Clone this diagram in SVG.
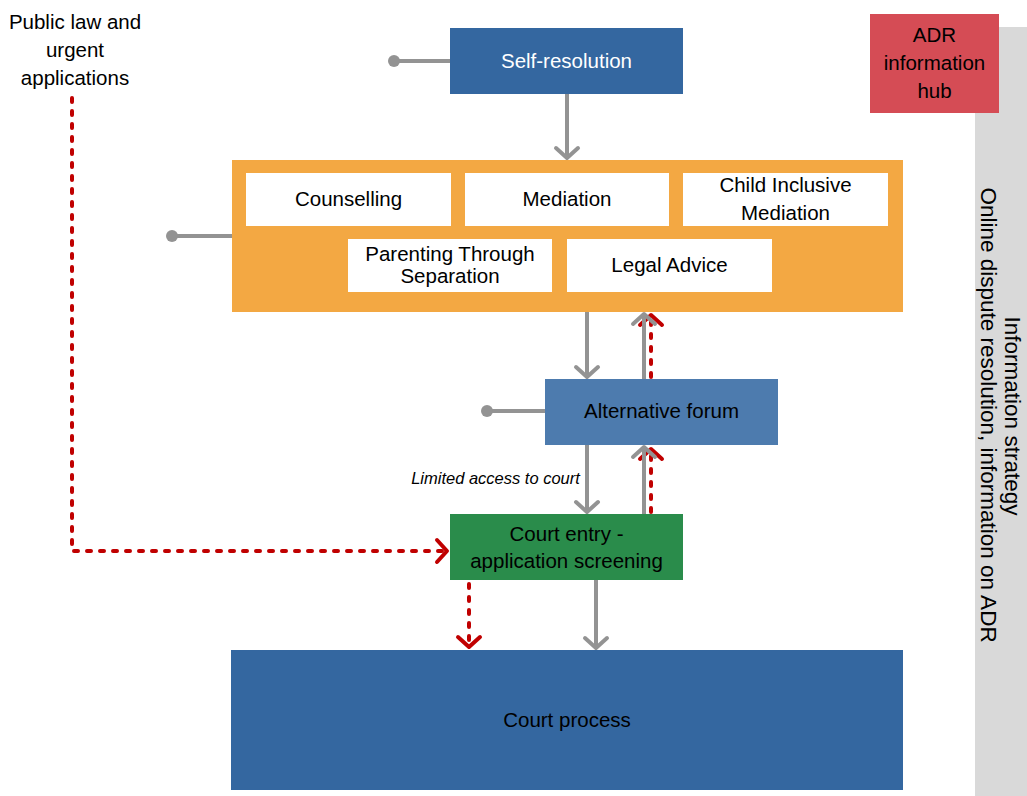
<svg xmlns="http://www.w3.org/2000/svg" width="1027" height="796" viewBox="0 0 1027 796">
<defs>
<marker id="ga" viewBox="0 0 16 28" refX="14" refY="14" markerWidth="16" markerHeight="28" markerUnits="userSpaceOnUse" orient="auto">
<path d="M3,3 L13,14 L3,25" fill="none" stroke="#939393" stroke-width="4" stroke-linecap="round" stroke-linejoin="round"/>
</marker>
<marker id="ra" viewBox="0 0 16 28" refX="14" refY="14" markerWidth="16" markerHeight="28" markerUnits="userSpaceOnUse" orient="auto">
<path d="M3,3 L13,14 L3,25" fill="none" stroke="#c00000" stroke-width="4" stroke-linecap="round" stroke-linejoin="round"/>
</marker>
</defs>
<style>
.t{font-family:"Liberation Sans",Arial,sans-serif;font-size:20.5px;text-anchor:middle;fill:#000}
.w{fill:#fff}
.s{font-size:22.5px}
.g{stroke:#939393;stroke-width:4;fill:none}
.r{stroke:#c00000;stroke-width:4;fill:none;stroke-dasharray:4 9;stroke-linecap:round}
.dot{fill:#939393}
</style>
<rect width="1027" height="796" fill="#fff"/>
<g id="sidebar">
<rect x="975" y="27" width="52" height="769" fill="#d9d9d9"/>
<text class="t s" transform="translate(1005,416) rotate(90)">Information strategy</text>
<text class="t s" transform="translate(981,415) rotate(90)">Online dispute resolution, information on ADR</text>
</g>
<g id="adr-hub">
<rect x="870" y="14" width="129" height="99" fill="#d54c55"/>
<text class="t" x="934.5" y="42">ADR</text>
<text class="t" x="934.5" y="70">information</text>
<text class="t" x="934.5" y="98">hub</text>
</g>
<g id="public-law">
<text class="t" x="75" y="29">Public law and</text>
<text class="t" x="75" y="57">urgent</text>
<text class="t" x="75" y="85">applications</text>
</g>
<g id="connectors">
<line class="g" x1="394" y1="61" x2="450" y2="61"/><circle class="dot" cx="394" cy="61" r="6"/>
<line class="g" x1="172" y1="236" x2="232" y2="236"/><circle class="dot" cx="172" cy="236" r="6"/>
<line class="g" x1="487" y1="411" x2="545" y2="411"/><circle class="dot" cx="487" cy="411" r="6"/>
<line class="g" x1="567" y1="94" x2="567" y2="159" marker-end="url(#ga)"/>
<line class="g" x1="587" y1="312" x2="587" y2="378" marker-end="url(#ga)"/>
<line class="r" x1="651" y1="377" x2="651" y2="314" marker-end="url(#ra)"/>
<line class="g" x1="644" y1="379" x2="644" y2="313" marker-end="url(#ga)"/>
<line class="g" x1="587" y1="445" x2="587" y2="513" marker-end="url(#ga)"/>
<line class="r" x1="651" y1="512" x2="651" y2="448" marker-end="url(#ra)"/>
<line class="g" x1="644" y1="514" x2="644" y2="446" marker-end="url(#ga)"/>
<line class="g" x1="596" y1="580" x2="596" y2="649" marker-end="url(#ga)"/>
<polyline class="r" points="72,98 72,551 448,551" marker-end="url(#ra)"/>
<line class="r" x1="469" y1="584" x2="469" y2="648" marker-end="url(#ra)"/>
<text x="495.5" y="484" style="font-family:'Liberation Sans',Arial,sans-serif;font-size:16.5px;font-style:italic;text-anchor:middle;fill:#000">Limited access to court</text>
</g>
<g id="self-resolution">
<rect x="450" y="28" width="233" height="66" fill="#3467a0"/>
<text class="t w" x="566.5" y="68">Self-resolution</text>
</g>
<g id="services">
<rect x="232" y="160" width="671" height="152" fill="#f3a843"/>
<rect x="246" y="173" width="205" height="53" fill="#fff"/>
<text class="t" x="348.5" y="206">Counselling</text>
<rect x="465" y="173" width="204" height="53" fill="#fff"/>
<text class="t" x="567" y="206">Mediation</text>
<rect x="683" y="173" width="205" height="53" fill="#fff"/>
<text class="t" x="785.5" y="192">Child Inclusive</text>
<text class="t" x="785.5" y="220">Mediation</text>
<rect x="348" y="239" width="204" height="53" fill="#fff"/>
<text class="t" x="450" y="261">Parenting Through</text>
<text class="t" x="450" y="283">Separation</text>
<rect x="567" y="239" width="205" height="53" fill="#fff"/>
<text class="t" x="669.5" y="272">Legal Advice</text>
</g>
<g id="alternative-forum">
<rect x="545" y="379" width="233" height="66" fill="#4d7bae"/>
<text class="t" x="661.5" y="418">Alternative forum</text>
</g>
<g id="court-entry">
<rect x="450" y="514" width="233" height="66" fill="#2a8c4b"/>
<text class="t" x="566.5" y="541">Court entry -</text>
<text class="t" x="566.5" y="568">application screening</text>
</g>
<g id="court-process">
<rect x="231" y="650" width="672" height="140" fill="#3467a0"/>
<text class="t" x="567" y="727">Court process</text>
</g>
</svg>
